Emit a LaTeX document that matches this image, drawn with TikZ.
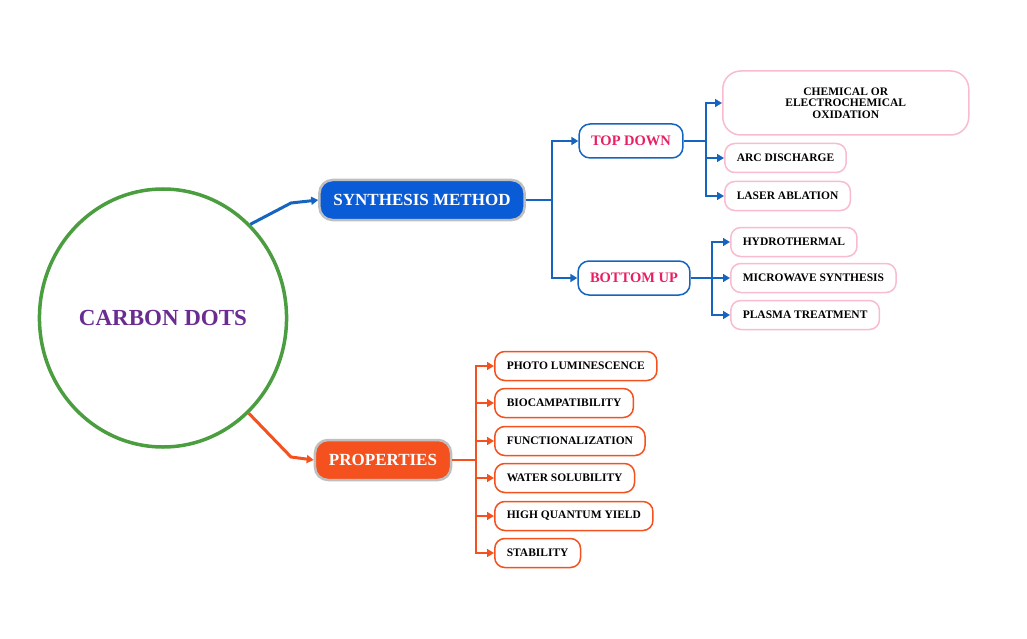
\documentclass[tikz,border=0pt]{standalone}
\usepackage{fontspec}
\setmainfont{Liberation Serif}
\usetikzlibrary{shapes.geometric,arrows.meta,positioning}
\definecolor{cdgreen}{HTML}{4A9E3F}
\definecolor{cdpurple}{HTML}{6A2C91}
\definecolor{cdblue}{HTML}{0A5BD6}
\definecolor{cdline}{HTML}{1565C0}
\definecolor{cdorange}{HTML}{F4511E}
\definecolor{cdpink}{HTML}{F8BBD0}
\definecolor{cdred}{HTML}{E91E63}
\tikzstyle{main} = [rounded corners=13pt,draw=black!25,line width=2.5pt,text=white,font=\fontsize{17}{17}\bfseries\selectfont,minimum height=40pt,inner xsep=14pt]
\tikzstyle{sub} = [rounded corners=11pt,draw=cdline,line width=1.5pt,fill=white,text=cdred,font=\fontsize{14.5}{14.5}\bfseries\selectfont,minimum height=34pt,inner xsep=12pt]
\tikzstyle{leaf} = [rounded corners=10pt,line width=1.5pt,fill=white,anchor=west,font=\fontsize{11.5}{11.5}\bfseries\selectfont,minimum height=29pt,inner xsep=12pt]
\tikzstyle{tip} = [-{Triangle[length=7pt,width=8pt]}]

\begin{document}
\begin{tikzpicture}[x=1pt,y=-1pt]
\useasboundingbox (0,0) rectangle (1027,639);

% Define nodes
\node[ellipse,draw=cdgreen,line width=3.5pt,minimum width=208pt,minimum height=258pt,text=cdpurple,font=\fontsize{23}{23}\bfseries\selectfont] (cd) at (163,318) {CARBON DOTS};

\node[main,fill=cdblue]   (syn)  at (422,200) {SYNTHESIS METHOD};
\node[main,fill=cdorange] (prop) at (383,460) {PROPERTIES};

\node[sub] (top) at (631,141) {TOP DOWN};
\node[sub] (bot) at (634,278) {BOTTOM UP};

\node[leaf,draw=cdpink,rounded corners=18pt,minimum width=246pt,minimum height=64pt,align=center] (chem) at (722,103) {CHEMICAL OR\\ELECTROCHEMICAL\\OXIDATION};
\node[leaf,draw=cdpink] (arc)   at (724,158) {ARC DISCHARGE};
\node[leaf,draw=cdpink] (laser) at (724,196) {LASER ABLATION};

\node[leaf,draw=cdpink] (hydro)  at (730,242) {HYDROTHERMAL};
\node[leaf,draw=cdpink] (micro)  at (730,278) {MICROWAVE SYNTHESIS};
\node[leaf,draw=cdpink] (plasma) at (730,315) {PLASMA TREATMENT};

\node[leaf,draw=cdorange] (photo) at (494,366) {PHOTO LUMINESCENCE};
\node[leaf,draw=cdorange] (bio)   at (494,403) {BIOCAMPATIBILITY};
\node[leaf,draw=cdorange] (func)  at (494,441) {FUNCTIONALIZATION};
\node[leaf,draw=cdorange] (water) at (494,478) {WATER SOLUBILITY};
\node[leaf,draw=cdorange] (high)  at (494,516) {HIGH QUANTUM YIELD};
\node[leaf,draw=cdorange] (stab)  at (494,553) {STABILITY};

% Forks
\coordinate (fs) at (552,200);
\coordinate (ft) at (706,141);
\coordinate (fb) at (712,278);
\coordinate (fp) at (476,460);

% Edges
\draw[cdline,line width=3pt,tip] (cd.47) -- (291,203) -- (syn.west);
\draw[cdorange,line width=3pt,tip] (cd.-48) -- (291,457) -- (prop.west);

\draw[cdline,line width=2.5pt] (syn.east) -- (fs);
\foreach \n in {top,bot} \draw[cdline,line width=2.5pt,tip] (fs) |- (\n.west);

\draw[cdline,line width=1.5pt] (top.east) -- (ft);
\foreach \n in {chem,arc,laser} \draw[cdline,line width=1.5pt,tip] (ft) |- (\n.west);

\draw[cdline,line width=1.5pt] (bot.east) -- (fb);
\foreach \n in {hydro,micro,plasma} \draw[cdline,line width=1.5pt,tip] (fb) |- (\n.west);

\draw[cdorange,line width=1.5pt] (prop.east) -- (fp);
\foreach \n in {photo,bio,func,water,high,stab} \draw[cdorange,line width=1.5pt,tip] (fp) |- (\n.west);
\end{tikzpicture}
\end{document}
